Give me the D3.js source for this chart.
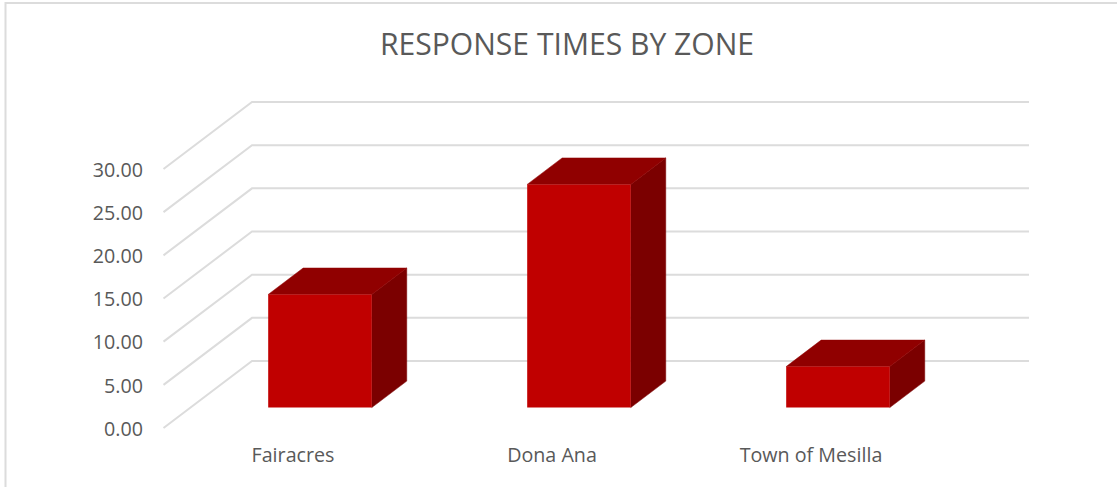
<!DOCTYPE html>
<html>
<head>
<meta charset="utf-8">
<script src="https://cdn.jsdelivr.net/npm/d3@7"></script>
<style>
  html, body { margin: 0; padding: 0; background: #fff; }
  text { font-family: "Open Sans", sans-serif; fill: #595959; }
</style>
</head>
<body>
<svg id="chart" width="1117" height="487"></svg>
<script>
let zones = ["Fairacres", "Dona Ana", "Town of Mesilla"];
let responseTimes = [13.1, 25.85, 4.75];
let yTicks = [0, 5, 10, 15, 20, 25, 30];
let chartTitle = "RESPONSE TIMES BY ZONE";

let svg = d3.select("#chart");

// -- scales, x and y are on the front edge of the floor -- //
let xScale = d3.scaleBand().domain(zones).range([163.5, 940.5]);
let yScale = d3.scaleLinear().domain([0, 30]).range([428, 169]);

// -- depth goes from front (0) to back wall (1) -- //
let depthX = d3.scaleLinear().domain([0, 1]).range([0, 88.5]);
let depthY = d3.scaleLinear().domain([0, 1]).range([0, -67]);
let barFront = 0.305, barBack = 0.70;
let barWidth = xScale.bandwidth() * 0.4;

let pt = (x, v, z) => [x + depthX(z), yScale(v) + depthY(z)];
let poly = pts => pts.map(p => p.join(",")).join(" ");

// -- chart frame -- //
svg.append("rect")
    .attr("x", 5.5).attr("y", 3)
    .attr("width", 1200).attr("height", 600)
    .style("fill", "#fff")
    .style("stroke", "#dcdcdc")
    .style("stroke-width", 2);

// -- title -- //
svg.append("text")
    .attr("x", 567).attr("y", 55)
    .attr("text-anchor", "middle")
    .style("font-size", "30.1px")
    .text(chartTitle);

// -- gridlines: side wall then back wall -- //
svg.append("g").selectAll("polyline")
    .data(yTicks)
    .enter()
    .append("polyline")
    .attr("points", d => poly([
        pt(xScale.range()[0], d, 0),
        pt(xScale.range()[0], d, 1),
        pt(xScale.range()[1], d, 1)
    ]))
    .style("fill", "none")
    .style("stroke", "#dcdcdc")
    .style("stroke-width", 2);

// -- axes -- //
let yAxis = d3.axisLeft(yScale).tickValues(yTicks).tickFormat(d3.format(".2f")).tickSize(0).tickPadding(20.5);
svg.append("g")
    .attr("transform", "translate(163.5, 1)")
    .call(yAxis)
    .call(g => g.select(".domain").remove())
    .selectAll("text")
    .style("font-size", "19.7px")
    .style("font-family", null);

let xAxis = d3.axisBottom(xScale).tickSize(0).tickPadding(20);
svg.append("g")
    .attr("transform", "translate(0, 428)")
    .call(xAxis)
    .call(g => g.select(".domain").remove())
    .selectAll("text")
    .style("font-size", "19.7px")
    .style("font-family", null);

// -- bars: side, top and front faces -- //
let bars = svg.selectAll(".bar")
    .data(zones.map((z, i) => ({ zone: z, value: responseTimes[i] })))
    .enter()
    .append("g")
    .attr("class", "bar");

let left = d => xScale(d.zone) + (xScale.bandwidth() - barWidth) / 2;

bars.append("polygon")
    .attr("points", d => poly([
        pt(left(d) + barWidth, 0, barFront),
        pt(left(d) + barWidth, 0, barBack),
        pt(left(d) + barWidth, d.value, barBack),
        pt(left(d) + barWidth, d.value, barFront)
    ]))
    .style("fill", "#7b0000")
    .style("stroke", "#7b0000")
    .style("stroke-width", 0.5);

bars.append("polygon")
    .attr("points", d => poly([
        pt(left(d), d.value, barFront),
        pt(left(d), d.value, barBack),
        pt(left(d) + barWidth, d.value, barBack),
        pt(left(d) + barWidth, d.value, barFront)
    ]))
    .style("fill", "#900000")
    .style("stroke", "#900000")
    .style("stroke-width", 0.5);

bars.append("polygon")
    .attr("points", d => poly([
        pt(left(d), 0, barFront),
        pt(left(d), d.value, barFront),
        pt(left(d) + barWidth, d.value, barFront),
        pt(left(d) + barWidth, 0, barFront)
    ]))
    .style("fill", "#c00000");
</script>
</body>
</html>
